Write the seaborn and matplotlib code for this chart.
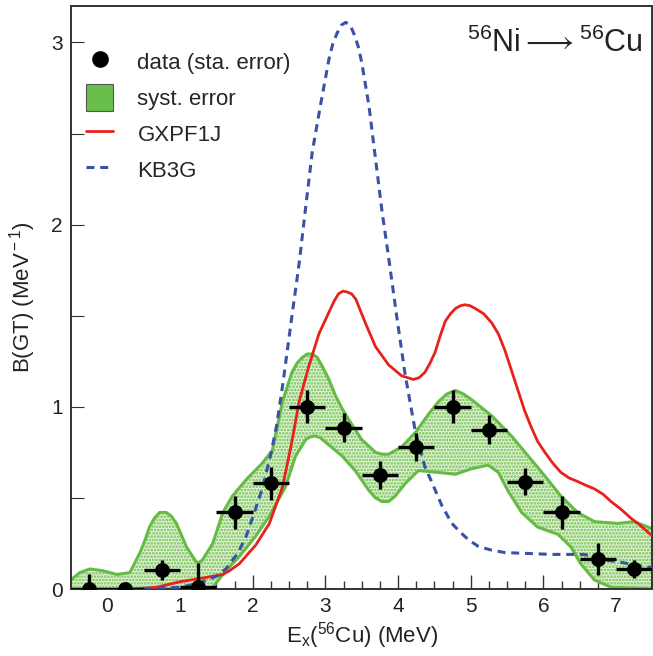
import numpy as np
import pandas as pd
import matplotlib
matplotlib.use("Agg")
import matplotlib.pyplot as plt
import seaborn as sns
from matplotlib.lines import Line2D
from matplotlib.patches import Patch

# ---------------- data ----------------
data_x = [-0.25, 0.25, 0.75, 1.25, 1.75, 2.25, 2.75, 3.25, 3.75, 4.25, 4.75, 5.25, 5.75, 6.25, 6.75, 7.25]
data_y = [0.0, 0.0, 0.104, 0.01, 0.42, 0.58, 1.00, 0.885, 0.626, 0.78, 1.00, 0.874, 0.59, 0.42, 0.165, 0.11]
data_xerr = [0.25] * 16
data_yerr = [0.08, 0.0, 0.055, 0.135, 0.09, 0.09, 0.09, 0.08, 0.076, 0.075, 0.09, 0.08, 0.073, 0.09, 0.087, 0.05]

kb_x = [0.5, 0.75, 1.0, 1.25, 1.5, 1.63, 1.8, 1.91, 2.04, 2.13, 2.25, 2.33, 2.42, 2.53, 2.64, 2.73, 2.82,
        2.93, 3.05, 3.10, 3.16, 3.22, 3.28, 3.34, 3.39, 3.45, 3.50, 3.60, 3.69, 3.78, 3.87, 3.98, 4.10,
        4.24, 4.37, 4.46, 4.60, 4.74, 4.86, 4.97, 5.10, 5.27, 5.47, 6.11, 6.56, 6.72, 6.84, 7.02, 7.43, 7.5]
kb_y = [0.0, 0.005, 0.01, 0.03, 0.07, 0.11, 0.2, 0.29, 0.44, 0.55, 0.74, 0.90, 1.14, 1.47, 1.79, 2.10, 2.40,
        2.65, 2.91, 2.99, 3.05, 3.095, 3.11, 3.095, 3.05, 2.98, 2.89, 2.65, 2.36, 2.07, 1.82, 1.50, 1.17,
        0.86, 0.67, 0.59, 0.46, 0.36, 0.31, 0.27, 0.235, 0.215, 0.20, 0.19, 0.19, 0.175, 0.16, 0.15, 0.12, 0.12]

gx_x = [0.35, 0.68, 1.0, 1.31, 1.59, 1.68, 1.82, 1.95, 2.04, 2.23, 2.41, 2.53, 2.64, 2.77, 2.91, 3.05, 3.12,
        3.18, 3.24, 3.30, 3.36, 3.42, 3.48, 3.55, 3.69, 3.87, 4.05, 4.13, 4.21, 4.29, 4.37, 4.44, 4.51,
        4.58, 4.65, 4.72, 4.79, 4.86, 4.92, 4.99, 5.06, 5.18, 5.29, 5.38, 5.47, 5.56, 5.65, 5.74, 5.83,
        5.92, 6.02, 6.13, 6.24, 6.35, 6.47, 6.58, 6.70, 6.82, 6.93, 7.06, 7.20, 7.33, 7.5]
gx_y = [0.0, 0.01, 0.04, 0.06, 0.08, 0.10, 0.14, 0.20, 0.24, 0.36, 0.56, 0.79, 1.03, 1.22, 1.40, 1.52, 1.58,
        1.62, 1.635, 1.63, 1.62, 1.59, 1.53, 1.46, 1.33, 1.23, 1.17, 1.16, 1.15, 1.16, 1.19, 1.24, 1.30,
        1.39, 1.47, 1.51, 1.54, 1.555, 1.56, 1.555, 1.54, 1.51, 1.46, 1.40, 1.31, 1.20, 1.09, 0.98, 0.89,
        0.81, 0.75, 0.69, 0.64, 0.61, 0.59, 0.57, 0.55, 0.52, 0.48, 0.44, 0.39, 0.35, 0.29]

up_x = [-0.5, -0.38, -0.24, -0.06, 0.13, 0.31, 0.45, 0.52, 0.58, 0.65, 0.72, 0.81, 0.88, 0.95, 1.09, 1.22,
        1.26, 1.31, 1.45, 1.59, 1.72, 1.91, 2.13, 2.27, 2.41, 2.54, 2.61, 2.68, 2.75, 2.82, 2.89, 2.96,
        3.05, 3.14, 3.23, 3.32, 3.50, 3.69, 3.78, 3.87, 4.05, 4.24, 4.42, 4.56, 4.67, 4.79, 4.90, 5.01,
        5.29, 5.56, 5.79, 6.02, 6.24, 6.47, 6.70, 7.02, 7.25, 7.5]
up_y = [0.05, 0.09, 0.11, 0.10, 0.08, 0.09, 0.20, 0.27, 0.34, 0.39, 0.42, 0.42, 0.40, 0.36, 0.23, 0.15,
        0.145, 0.16, 0.25, 0.42, 0.51, 0.60, 0.69, 0.76, 1.03, 1.19, 1.24, 1.27, 1.29, 1.29, 1.27, 1.22,
        1.15, 1.06, 0.99, 0.93, 0.82, 0.75, 0.74, 0.74, 0.78, 0.86, 0.96, 1.03, 1.07, 1.09, 1.07, 1.04,
        0.95, 0.84, 0.73, 0.62, 0.51, 0.42, 0.37, 0.36, 0.37, 0.33]

lo_x = [-0.5, 1.27, 1.45, 1.63, 1.82, 2.04, 2.23, 2.45, 2.59, 2.73, 2.79, 2.86, 2.93, 3.05, 3.23, 3.41,
        3.60, 3.69, 3.78, 3.87, 3.96, 4.10, 4.28, 4.55, 4.79, 5.01, 5.24, 5.38, 5.51, 5.70, 5.92, 6.20,
        6.38, 6.51, 6.70, 6.93, 7.5]
lo_y = [0.0, 0.0, 0.01, 0.10, 0.18, 0.29, 0.40, 0.56, 0.73, 0.82, 0.835, 0.84, 0.83, 0.79, 0.73, 0.65,
        0.54, 0.50, 0.48, 0.48, 0.51, 0.58, 0.65, 0.64, 0.63, 0.66, 0.68, 0.64, 0.54, 0.42, 0.34, 0.30,
        0.23, 0.14, 0.05, 0.01, 0.0]

legend_labels = ["data (sta. error)", "syst. error", "GXPF1J", "KB3G"]
title_text = "$^{56}$Ni$\\longrightarrow$$^{56}$Cu"
xlabel_text = "E$_{\\rm x}$($^{56}$Cu) (MeV)"
ylabel_text = "B(GT) (MeV$^{\\rm -1}$)"

# ---------------- style ----------------
sns.set_theme(style="ticks")
plt.rcParams["font.family"] = ["Liberation Sans", "DejaVu Sans"]
plt.rcParams["mathtext.fontset"] = "custom"
plt.rcParams["mathtext.rm"] = "Liberation Sans"
plt.rcParams["mathtext.it"] = "Liberation Sans:italic"
plt.rcParams["mathtext.fallback"] = "cm"
plt.rcParams["hatch.linewidth"] = 1.3

GREEN = "#66bb44"
RED = "#e8211d"
BLUE = "#3b51a8"
AXC = "#333333"

fig = plt.figure(figsize=(6.53, 6.56), dpi=100)
ax = fig.add_axes([0.1087, 0.1021, 0.8905, 0.8888])

# systematic band
ax.fill(np.r_[up_x, lo_x[::-1]], np.r_[up_y, lo_y[::-1]], facecolor="#e3f2d8",
        edgecolor="#6cc04a", hatch=".....", linewidth=0, zorder=1)
band_up = pd.DataFrame({"x": up_x, "y": up_y})
band_lo = pd.DataFrame({"x": lo_x, "y": lo_y})
sns.lineplot(data=band_up, x="x", y="y", ax=ax, color=GREEN, lw=2.2, sort=False, estimator=None, zorder=2)
sns.lineplot(data=band_lo, x="x", y="y", ax=ax, color=GREEN, lw=2.2, sort=False, estimator=None, zorder=2)

# models
gx = pd.DataFrame({"x": gx_x, "y": gx_y})
kb = pd.DataFrame({"x": kb_x, "y": kb_y})
sns.lineplot(data=gx, x="x", y="y", ax=ax, color=RED, lw=2.0, sort=False, estimator=None, zorder=3)
sns.lineplot(data=kb, x="x", y="y", ax=ax, color=BLUE, lw=2.2, sort=False, estimator=None, zorder=3)
ax.lines[-1].set_dashes([2.6, 1.9])
for ln in ax.lines:
    ln.set_solid_joinstyle("round")
    ln.set_dash_joinstyle("round")

# data
dd = pd.DataFrame({"x": data_x, "y": data_y})
ax.errorbar(data_x, data_y, xerr=data_xerr, yerr=data_yerr, fmt="none", ecolor="black",
            elinewidth=2.4, capsize=0, zorder=4)
sns.scatterplot(data=dd, x="x", y="y", ax=ax, color="black", s=115, edgecolor="black",
                linewidth=0, zorder=5)

ax.set_xlim(-0.5, 7.5)
ax.set_ylim(0, 3.2)
ax.set_xticks(range(0, 8))
ax.set_xticks(np.arange(-0.5, 7.51, 0.25), minor=True)
ax.set_yticks([0, 1, 2, 3])
ax.set_yticks([0.5, 1.5, 2.5], minor=True)
ax.tick_params(axis="both", which="both", direction="in", colors=AXC, labelcolor="#222222",
               labelsize=15, top=False, right=False)
ax.tick_params(axis="x", which="major", length=10, width=1.0, pad=6)
ax.tick_params(axis="x", which="minor", length=6, width=1.0)
ax.tick_params(axis="y", which="major", length=9, width=0.8, pad=6)
ax.tick_params(axis="y", which="minor", length=9, width=0.8)
for s in ax.spines.values():
    s.set_color(AXC)
    s.set_linewidth(1.4)

ax.set_xlabel(xlabel_text, fontsize=16, color="#222222", labelpad=3)
ax.set_ylabel(ylabel_text, fontsize=16, color="#222222", labelpad=9)

ax.text(0.983, 0.962, title_text, transform=ax.transAxes, ha="right", va="top",
        fontsize=22, color="#222222")

handles = [
    Line2D([], [], marker="o", color="black", ls="none", markersize=11),
    Patch(facecolor="#6abf4b", edgecolor="#555555", linewidth=0.8),
    Line2D([], [], color=RED, lw=2.0),
    Line2D([], [], color=BLUE, lw=2.2, dashes=[2.6, 1.9]),
]
ax.legend(handles, legend_labels, loc="upper left", bbox_to_anchor=(-0.008, 0.962), frameon=False,
          fontsize=16, handlelength=1.2, handleheight=1.5, handletextpad=1.1,
          labelspacing=0.40, borderaxespad=0.5)

fig.savefig("out.png", dpi=100)
